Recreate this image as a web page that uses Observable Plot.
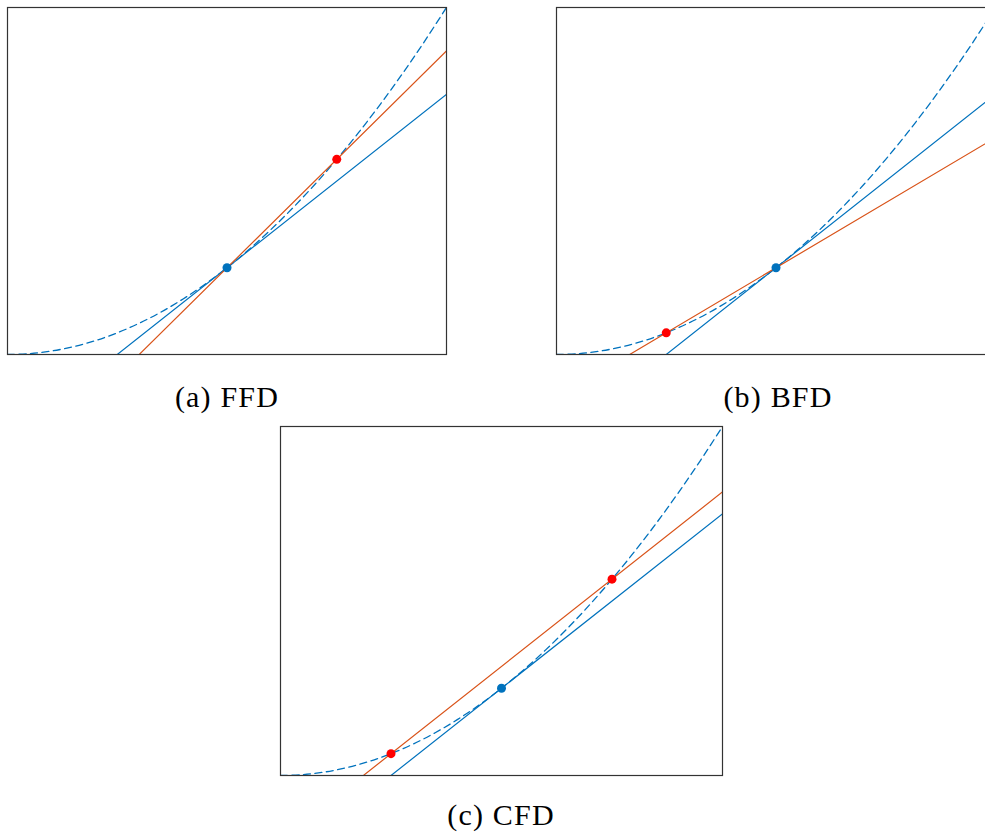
<!DOCTYPE html>
<html>
<head>
<meta charset="utf-8">
<script src="https://cdn.jsdelivr.net/npm/d3@7"></script>
<script src="https://cdn.jsdelivr.net/npm/@observablehq/plot@0.6"></script>
<style>
  html, body { margin: 0; padding: 0; background: #fff; overflow: hidden; }
  #root { position: relative; width: 985px; height: 835px; overflow: hidden; background: #fff; }
  .panel { position: absolute; }
  .cap { position: absolute; font-family: "Liberation Serif", serif; font-size: 30px; letter-spacing: 1.2px; text-align: center; color: #000; line-height: 1; }
</style>
</head>
<body>
<div id="root"></div>
<script>
// Function f(x) = x^2 read at sample points
const curveX = [0, 0.1, 0.2, 0.3, 0.4, 0.5, 0.6, 0.7, 0.8, 0.9, 1.0, 1.1, 1.2, 1.3, 1.4, 1.5, 1.6, 1.7, 1.8, 1.9, 2.0];
const curveY = [0, 0.01, 0.04, 0.09, 0.16, 0.25, 0.36, 0.49, 0.64, 0.81, 1.0, 1.21, 1.44, 1.69, 1.96, 2.25, 2.56, 2.89, 3.24, 3.61, 4.0];

// Tangent line at x0 = 1 (same in every panel)
const tangentX = [0.5, 2];
const tangentY = [0, 3];

// Secant lines
const ffdX = [0.6, 2];      const ffdY = [0, 3.5];
const bfdX = [1 / 3, 2];    const bfdY = [0, 2.5];
const cfdX = [0.375, 2];    const cfdY = [0, 3.25];

// Points
const centerX = [1];        const centerY = [1];
const ffdPtX = [1.5];       const ffdPtY = [2.25];
const bfdPtX = [0.5];       const bfdPtY = [0.25];
const cfdPtX = [0.5, 1.5];  const cfdPtY = [0.25, 2.25];

const captions = ["(a) FFD", "(b) BFD", "(c) CFD"];

const BLUE = "#0072BD", ORANGE = "#D95319", RED = "#FF0000";
const zip = (xs, ys) => xs.map((x, i) => ({x, y: ys[i]}));

function panel(secX, secY, ptX, ptY, w, h) {
  const m = 8;
  return Plot.plot({
    width: w + 2 * m,
    height: h + 2 * m,
    margin: m,
    x: {domain: [0, 2], axis: null},
    y: {domain: [0, 4], axis: null},
    style: {background: "transparent", overflow: "visible"},
    marks: [
      Plot.line(zip(curveX, curveY), {x: "x", y: "y", stroke: BLUE, strokeWidth: 1.3, strokeDasharray: "7,4.5", curve: "catmull-rom", clip: true}),
      Plot.line(zip(tangentX, tangentY), {x: "x", y: "y", stroke: BLUE, strokeWidth: 1.2, clip: true}),
      Plot.line(zip(secX, secY), {x: "x", y: "y", stroke: ORANGE, strokeWidth: 1.2, clip: true}),
      Plot.dot(zip(ptX, ptY), {x: "x", y: "y", r: 4.5, fill: RED, stroke: "none"}),
      Plot.dot(zip(centerX, centerY), {x: "x", y: "y", r: 4.5, fill: BLUE, stroke: "none"}),
      Plot.frame({stroke: "#333", strokeWidth: 1.2})
    ]
  });
}

const root = document.getElementById("root");
function place(el, left, top) {
  el.classList.add("panel");
  el.style.left = left + "px";
  el.style.top = top + "px";
  root.appendChild(el);
}
function cap(text, cx, cy) {
  const d = document.createElement("div");
  d.className = "cap";
  d.textContent = text;
  d.style.left = (cx - 150) + "px";
  d.style.width = "300px";
  d.style.top = (cy - 15) + "px";
  root.appendChild(d);
}

place(panel(ffdX, ffdY, ffdPtX, ffdPtY, 439, 347), -1, -1);
place(panel(bfdX, bfdY, bfdPtX, bfdPtY, 439, 347), 548, -1);
place(panel(cfdX, cfdY, cfdPtX, cfdPtY, 442, 349), 272, 418);

cap(captions[0], 227, 397);
cap(captions[1], 778, 397);
cap(captions[2], 501, 815);
</script>
</body>
</html>
